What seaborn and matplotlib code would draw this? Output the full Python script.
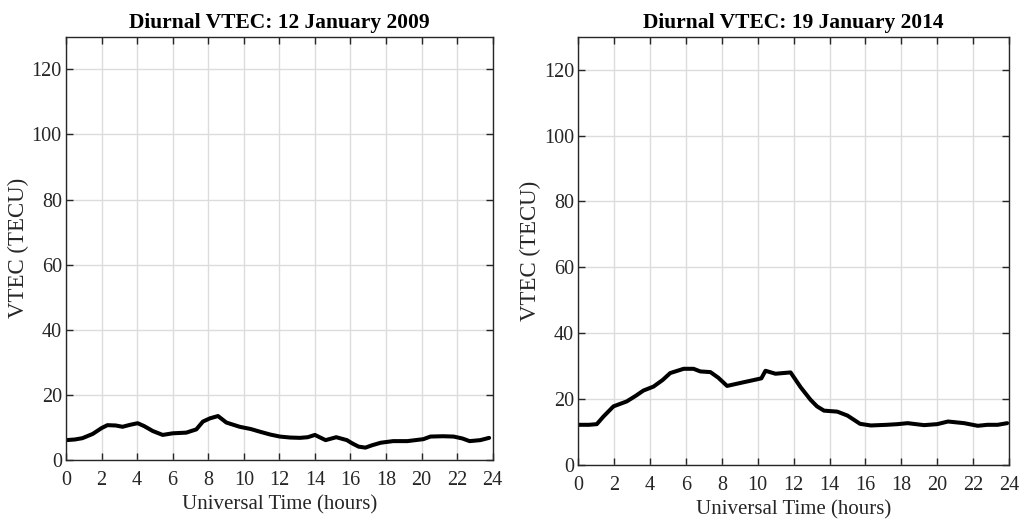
import matplotlib
matplotlib.use("Agg")
import matplotlib.pyplot as plt
import seaborn as sns
import pandas as pd

# ---- data ----
hours_2009 = [0.0, 0.5, 0.92, 1.5, 2.0, 2.33, 2.8, 3.18, 3.6, 4.03, 4.4, 4.88, 5.44, 6.0, 6.76,
              7.33, 7.7, 8.1, 8.55, 9.02, 9.77, 10.4, 10.9, 11.5, 12.03, 12.6, 13.16, 13.6, 14.0,
              14.6, 15.2, 15.8, 16.1, 16.46, 16.84, 17.2, 17.7, 18.4, 19.2, 20.1, 20.5, 21.2,
              21.8, 22.3, 22.7, 23.3, 23.8]
vtec_2009 = [6.1, 6.3, 6.7, 8.0, 9.8, 10.7, 10.6, 10.2, 10.8, 11.3, 10.4, 8.9, 7.7, 8.2, 8.4,
             9.4, 11.8, 12.8, 13.5, 11.5, 10.2, 9.5, 8.7, 7.8, 7.2, 6.9, 6.8, 7.0, 7.7,
             6.1, 7.0, 6.1, 5.1, 4.1, 3.8, 4.5, 5.3, 5.8, 5.8, 6.4, 7.2, 7.3,
             7.2, 6.6, 5.8, 6.1, 6.8]

hours_2014 = [0.0, 0.19, 0.6, 1.03, 1.4, 1.96, 2.7, 3.2, 3.63, 4.19, 4.7, 5.12, 5.87, 6.42, 6.8,
              7.36, 7.8, 8.29, 9.03, 9.87, 10.2, 10.43, 10.99, 11.4, 11.83, 12.39, 12.94, 13.3,
              13.69, 14.43, 15.0, 15.7, 16.3, 17.2, 17.8, 18.35, 19.27, 20.0, 20.6, 21.5, 22.26,
              22.8, 23.37, 23.9]
vtec_2014 = [12.2, 12.2, 12.2, 12.4, 14.7, 17.8, 19.3, 21.0, 22.6, 23.8, 25.8, 27.9, 29.2, 29.2, 28.4,
             28.2, 26.5, 24.0, 24.9, 25.9, 26.3, 28.6, 27.7, 27.9, 28.1, 23.6, 19.8, 17.8,
             16.5, 16.2, 15.0, 12.5, 12.0, 12.2, 12.4, 12.7, 12.1, 12.4, 13.2, 12.7, 11.9,
             12.2, 12.2, 12.7]

titles = ["Diurnal VTEC: 12 January 2009", "Diurnal VTEC: 19 January 2014"]
x_ticks = list(range(0, 25, 2))
y_ticks = list(range(0, 121, 20))
x_label = "Universal Time (hours)"
y_label = "VTEC (TECU)"

sns.set_theme(style="whitegrid")
plt.rcParams["font.family"] = ["Liberation Serif", "DejaVu Serif"]

fig = plt.figure(figsize=(10.21, 5.29), dpi=100)
W, H = 1021.0, 529.0
boxes = [(66, 492.7, 36.7, 460), (578.3, 1009, 36.7, 465)]
datasets = [(hours_2009, vtec_2009), (hours_2014, vtec_2014)]

for (x0, x1, y0, y1), (hh, vv), title in zip(boxes, datasets, titles):
    ax = fig.add_axes([x0 / W, 1 - y1 / H, (x1 - x0) / W, (y1 - y0) / H])
    df = pd.DataFrame({"hour": hh, "vtec": vv})
    sns.lineplot(data=df, x="hour", y="vtec", ax=ax, color="black", linewidth=2.9)
    ax.set_xlim(0, 24)
    ax.set_ylim(0, 130)
    ax.set_xticks(x_ticks)
    ax.set_yticks(y_ticks)
    ax.set_facecolor("white")
    ax.grid(True, color="#dcdcdc", linewidth=1.0)
    for s in ax.spines.values():
        s.set_visible(True)
        s.set_color("#262626")
        s.set_linewidth(1.0)
    ax.tick_params(direction="in", length=5, width=1.0, color="#262626",
                   top=True, right=True, bottom=True, left=True,
                   labelsize=14.5, labelcolor="#262626")
    ax.tick_params(axis="x", pad=8)
    ax.tick_params(axis="y", pad=3)
    ax.set_xlabel(x_label, fontsize=15, color="#262626", labelpad=4)
    ax.set_ylabel(y_label, fontsize=16.5, color="#262626", labelpad=2)
    ax.set_title(title, fontsize=15.5, fontweight="bold", color="black", pad=6)

fig.savefig("out.png", dpi=100)
